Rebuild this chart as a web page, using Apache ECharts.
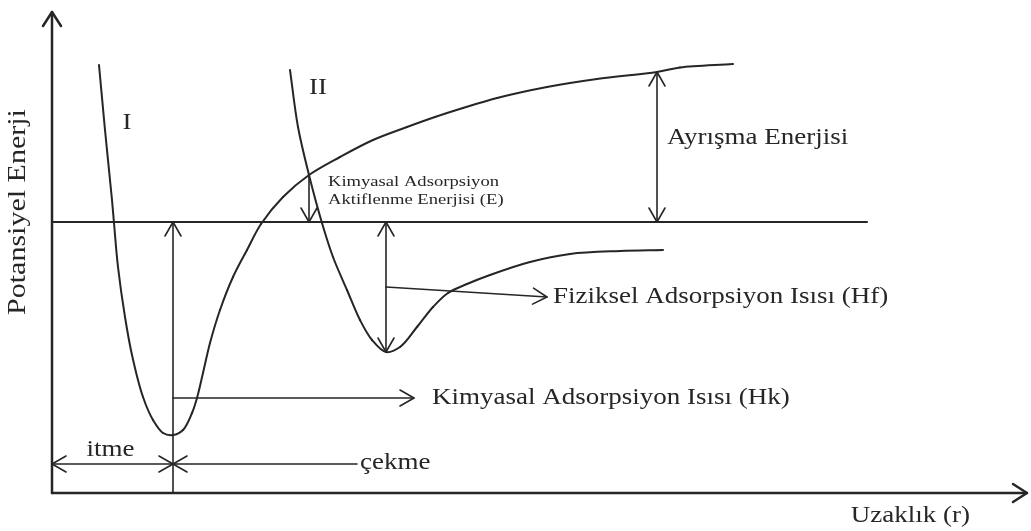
<!DOCTYPE html>
<html>
<head>
<meta charset="utf-8">
<script src="https://cdn.jsdelivr.net/npm/echarts@6/dist/echarts.min.js"></script>
<style>
  html, body { margin: 0; padding: 0; background: #ffffff; }
  #chart { width: 1031px; height: 531px; }
</style>
</head>
<body>
<div id="chart"></div>
<script>
// Potential energy against distance r (arbitrary units; E = 0 is the separated state)
const rRange = [0, 97.5];
const eRange = [-27.1, 21];

// Curve I: chemisorption
const chemR = [4.7, 5.3, 6.0, 6.2, 6.6, 7.3, 8.0, 9.1, 10.1, 11.1, 12.1, 13.1, 14.0, 14.5, 15.1, 15.8, 16.8, 18.1, 19.5, 20.9, 23.1, 25.7, 28.8, 32.1, 35.5, 38.3, 41.1, 44.5, 49.5, 54.5, 60.5, 62.8, 68.1];
const chemE = [15.7, 9.2, 2.2, -0.1, -4.5, -9.5, -13.3, -17.5, -19.8, -21.1, -21.3, -20.8, -19.1, -17.6, -15.1, -12.1, -8.8, -5.5, -2.8, -0.2, 2.5, 4.7, 6.5, 8.2, 9.5, 10.5, 11.4, 12.4, 13.5, 14.3, 15.0, 15.45, 15.8];

// Curve II: physisorption
const physR = [23.8, 24.6, 25.7, 27.0, 28.1, 29.5, 30.8, 32.0, 33.4, 34.8, 36.5, 38.1, 39.6, 41.5, 43.8, 47.8, 51.8, 56.8, 61.1];
const physE = [15.2, 9.5, 4.7, -0.1, -3.5, -6.8, -9.8, -11.8, -13.0, -12.5, -10.5, -8.5, -7.1, -6.2, -5.3, -4.0, -3.2, -2.9, -2.8];

// Axes drawn as arrows: [r1, E1, r2, E2, heads]  (heads: 0 none, 1 end, 2 start, 3 both)
const axisArrows = [
  [0, -27.1, 0, 21, 1],
  [0, -27.1, 97.5, -27.1, 1]
];
// Zero-energy reference level
const zeroLevel = [
  [0, 0, 81.5, 0, 0]
];
// Energy and distance markers
const markers = [
  [12.1, -27.1, 12.1, 0, 1],       // chemisorption well depth
  [12.1, -17.6, 36.2, -17.6, 1],   // pointer to Hk
  [0, -24.2, 12.1, -24.2, 3],      // itme
  [12.1, -24.2, 30.5, -24.2, 2],   // çekme
  [25.7, 4.7, 25.7, 0, 1],         // activation energy E
  [33.4, 0, 33.4, -13.0, 3],       // physisorption well depth
  [33.4, -6.5, 49.5, -7.5, 1],     // pointer to Hf
  [60.5, 15.0, 60.5, 0, 3]         // dissociation energy
];

const txt = {
  rAxis: 'Uzaklık (r)',
  eAxis: 'Potansiyel Enerji',
  curveI: 'I',
  curveII: 'II',
  hk: 'Kimyasal Adsorpsiyon Isısı (Hk)',
  hf: 'Fiziksel Adsorpsiyon Isısı (Hf)',
  diss: 'Ayrışma Enerjisi',
  act1: 'Kimyasal Adsorpsiyon',
  act2: 'Aktiflenme Enerjisi (E)',
  itme: 'itme',
  cekme: 'çekme'
};

const INK = '#262626';
const FONT = 'Liberation Serif, Times New Roman, serif';

function zip(a, b) { return a.map((v, i) => [v, b[i]]); }

function arrowSeries(list, width, headLen, headHalf) {
  return {
    type: 'custom',
    coordinateSystem: 'cartesian2d',
    silent: true,
    clip: false,
    data: list,
    renderItem: function (params, api) {
      const p1 = api.coord([api.value(0), api.value(1)]);
      const p2 = api.coord([api.value(2), api.value(3)]);
      const heads = api.value(4);
      const style = { stroke: INK, lineWidth: width, fill: null, lineCap: 'round', lineJoin: 'round' };
      const children = [{
        type: 'line',
        shape: { x1: p1[0], y1: p1[1], x2: p2[0], y2: p2[1] },
        style: style
      }];
      const dx = p2[0] - p1[0], dy = p2[1] - p1[1];
      const len = Math.hypot(dx, dy) || 1;
      const ux = dx / len, uy = dy / len;
      function head(tip, sx, sy) {
        // open chevron pointing along (sx, sy)
        return {
          type: 'polyline',
          shape: { points: [
            [tip[0] - headLen * sx - headHalf * sy, tip[1] - headLen * sy + headHalf * sx],
            [tip[0], tip[1]],
            [tip[0] - headLen * sx + headHalf * sy, tip[1] - headLen * sy - headHalf * sx]
          ] },
          style: style
        };
      }
      if (heads === 1 || heads === 3) children.push(head(p2, ux, uy));
      if (heads === 2 || heads === 3) children.push(head(p1, -ux, -uy));
      return { type: 'group', children: children };
    }
  };
}

// Smooth curve through the data points: each item draws the centripetal
// Catmull-Rom segment from its point to the next one.
function curveSeries(name, rs, es) {
  return {
    type: 'custom',
    name: name,
    coordinateSystem: 'cartesian2d',
    silent: true,
    clip: false,
    data: zip(rs, es),
    renderItem: function (params, api) {
      const i = params.dataIndex;
      const n = rs.length;
      if (i >= n - 1) return null;
      const P = k => api.coord([rs[k], es[k]]);
      const p1 = P(i), p2 = P(i + 1);
      const p0 = i > 0 ? P(i - 1) : [2 * p1[0] - p2[0], 2 * p1[1] - p2[1]];
      const p3 = i + 2 < n ? P(i + 2) : [2 * p2[0] - p1[0], 2 * p2[1] - p1[1]];
      const d = (a, b) => Math.max(Math.pow(Math.hypot(b[0] - a[0], b[1] - a[1]), 0.5), 1e-4);
      const t01 = d(p0, p1), t12 = d(p1, p2), t23 = d(p2, p3);
      const m1 = [0, 1].map(k => t12 * ((p1[k] - p0[k]) / t01 - (p2[k] - p0[k]) / (t01 + t12) + (p2[k] - p1[k]) / t12));
      const m2 = [0, 1].map(k => t12 * ((p2[k] - p1[k]) / t12 - (p3[k] - p1[k]) / (t12 + t23) + (p3[k] - p2[k]) / t23));
      return {
        type: 'bezierCurve',
        shape: {
          x1: p1[0], y1: p1[1], x2: p2[0], y2: p2[1],
          cpx1: p1[0] + m1[0] / 3, cpy1: p1[1] + m1[1] / 3,
          cpx2: p2[0] - m2[0] / 3, cpy2: p2[1] - m2[1] / 3
        },
        style: { stroke: INK, lineWidth: 2, fill: null, lineCap: 'round' }
      };
    }
  };
}

// Text annotations anchored at data points, shifted by a few pixels
const notes = [
  { t: txt.hk, at: [markers[1][2], markers[1][3]], dx: 18, dy: 0, align: 'left', size: 22.5 },
  { t: txt.hf, at: [markers[6][2], markers[6][3]], dx: 6, dy: 0, align: 'left', size: 22.5 },
  { t: txt.cekme, at: [markers[3][2], markers[3][3]], dx: 3, dy: -1, align: 'left', size: 22.5 },
  { t: txt.itme, at: [(markers[2][0] + markers[2][2]) / 2, markers[2][1]], dx: -2, dy: -14, align: 'center', size: 22.5 },
  { t: txt.diss, at: [markers[7][0], (markers[7][1] + markers[7][3]) / 2], dx: 10, dy: -9, align: 'left', size: 22.5 },
  { t: txt.act1, at: [markers[4][0], markers[4][1]], dx: 19, dy: 7, align: 'left', size: 15.5 },
  { t: txt.act2, at: [markers[4][0], markers[4][1]], dx: 19, dy: 25, align: 'left', size: 15.5 },
  { t: txt.curveI, at: [chemR[0], chemE[0]], dx: 28, dy: 58, align: 'center', size: 22.5 },
  { t: txt.curveII, at: [physR[0], physE[0]], dx: 28, dy: 18, align: 'center', size: 22.5 },
  { t: txt.rAxis, at: [rRange[1], eRange[0]], dx: -57, dy: 23, align: 'right', size: 22.5 },
  { t: txt.eAxis, at: [0, 0], dx: -34, dy: -10, align: 'center', size: 25, rot: Math.PI / 2 }
];

const chart = echarts.init(document.getElementById('chart'), null, { renderer: 'canvas' });

chart.setOption({
  animation: false,
  backgroundColor: '#ffffff',
  grid: { left: 52, right: 4, top: 12, bottom: 38, containLabel: false },
  xAxis: {
    type: 'value', min: rRange[0], max: rRange[1],
    axisLine: { show: false }, axisTick: { show: false },
    axisLabel: { show: false }, splitLine: { show: false }
  },
  yAxis: {
    type: 'value', min: eRange[0], max: eRange[1],
    axisLine: { show: false }, axisTick: { show: false },
    axisLabel: { show: false }, splitLine: { show: false }
  },
  series: [
    arrowSeries(axisArrows, 2.5, 14, 9),
    arrowSeries(zeroLevel, 2, 0, 0),
    arrowSeries(markers, 1.6, 14, 8),
    curveSeries('I', chemR, chemE),
    curveSeries('II', physR, physE),
    {
      type: 'custom',
      coordinateSystem: 'cartesian2d',
      silent: true,
      clip: false,
      data: notes.map(n => n.at),
      renderItem: function (params, api) {
        const n = notes[params.dataIndex];
        const p = api.coord([api.value(0), api.value(1)]);
        return {
          type: 'text',
          x: p[0] + n.dx,
          y: p[1] + n.dy,
          rotation: n.rot || 0,
          scaleX: 1.2,
          style: {
            text: n.t,
            fill: INK,
            fontFamily: FONT,
            fontSize: n.size,
            align: n.align,
            verticalAlign: 'middle'
          }
        };
      }
    }
  ]
});
</script>
</body>
</html>
